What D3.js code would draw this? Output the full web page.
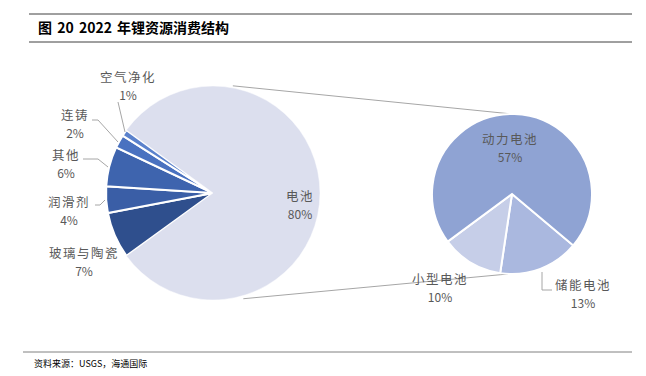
<!DOCTYPE html>
<html lang="zh">
<head>
<meta charset="UTF-8">
<title>2022 年锂资源消费结构</title>
<script src="https://d3js.org/d3.v7.min.js"></script>
<style>
  body { margin: 0; background: #fff; }
  text { font-family: "Noto Sans CJK SC", "Noto Sans", sans-serif; }
</style>
</head>
<body>
<div id="chart"></div>
<script>
// main pie: battery + the five small uses (order going clockwise from the lower-left)
const mainNames = ["玻璃与陶瓷", "润滑剂", "其他", "连铸", "空气净化", "电池"];
const mainValues = [7, 4, 6, 2, 1, 80];
const mainColors = ["#2f4f8d", "#3a5ea6", "#3e64ae", "#4a72c0", "#5b82cc", "#dcdfee"];

// secondary pie: breakdown of 电池
const subNames = ["储能电池", "小型电池", "动力电池"];
const subValues = [13, 10, 57];
const subColors = ["#aab8df", "#c6cee8", "#8fa3d3"];

const width = 646, height = 376;
const deg = Math.PI / 180;

const svg = d3.select("#chart").append("svg")
  .attr("width", width)
  .attr("height", height);

// title and rules
svg.append("line").attr("x1", 29).attr("x2", 632).attr("y1", 14).attr("y2", 14)
  .attr("stroke", "#404040").attr("stroke-width", 1);
svg.append("line").attr("x1", 29).attr("x2", 632).attr("y1", 42).attr("y2", 42)
  .attr("stroke", "#404040").attr("stroke-width", 1);
svg.append("text").attr("x", 38).attr("y", 33)
  .attr("font-size", 14).attr("font-weight", "bold").attr("fill", "#000")
  .attr("word-spacing", "2px")
  .text("图 20 2022 年锂资源消费结构");

svg.append("line").attr("x1", 23).attr("x2", 632).attr("y1", 352).attr("y2", 352)
  .attr("stroke", "#808080").attr("stroke-width", 1);
svg.append("text").attr("x", 34).attr("y", 367)
  .attr("font-size", 9).attr("fill", "#000")
  .text("资料来源：USGS，海通国际");

// geometry
const mc = [213, 193], mr = 107;
const sc = [512, 194], sr = 80;

// connector lines from the big pie to the top / bottom of the small one
const onCircle = (c, r, a) => [c[0] + r * Math.sin(a), c[1] - r * Math.cos(a)];
const t0 = onCircle(mc, mr + 2, 10.5 * deg), b0 = onCircle(mc, mr + 3, 164 * deg);
svg.append("line").attr("x1", t0[0]).attr("y1", t0[1]).attr("x2", sc[0]).attr("y2", sc[1] - sr)
  .attr("stroke", "#a6a6a6").attr("stroke-width", 1);
svg.append("line").attr("x1", b0[0]).attr("y1", b0[1]).attr("x2", sc[0] - 4).attr("y2", sc[1] + sr)
  .attr("stroke", "#a6a6a6").attr("stroke-width", 1);

// main pie
const mainPie = d3.pie().sort(null).value(d => d)
  .startAngle(-126 * deg).endAngle(234 * deg);
const mainArcs = mainPie(mainValues);
const mainArc = d3.arc().innerRadius(0).outerRadius(mr);
svg.append("g").attr("transform", `translate(${mc})`)
  .selectAll("path")
  .data(mainArcs)
  .join("path")
  .attr("d", mainArc)
  .attr("fill", (d, i) => mainColors[i])
  .attr("stroke", "#fff")
  .attr("stroke-width", (d, i) => i < 5 ? 2 : 0.5);

// secondary pie
const subPie = d3.pie().sort(null).value(d => d)
  .startAngle(130 * deg).endAngle(490 * deg);
const subArcs = subPie(subValues);
const subArc = d3.arc().innerRadius(0).outerRadius(sr);
svg.append("g").attr("transform", `translate(${sc})`)
  .selectAll("path")
  .data(subArcs)
  .join("path")
  .attr("d", subArc)
  .attr("fill", (d, i) => subColors[i])
  .attr("stroke", "#fff")
  .attr("stroke-width", 2);

// labels: name + percent, positioned like the original data labels
const labels = [
  { name: mainNames[4], value: mainValues[4], x: 128, y: 77 },
  { name: mainNames[3], value: mainValues[3], x: 75, y: 115 },
  { name: mainNames[2], value: mainValues[2], x: 66, y: 155 },
  { name: mainNames[1], value: mainValues[1], x: 69, y: 202 },
  { name: mainNames[0], value: mainValues[0], x: 84, y: 253 },
  { name: mainNames[5], value: mainValues[5], x: 300, y: 196 },
  { name: subNames[2], value: subValues[2], x: 510, y: 139 },
  { name: subNames[0], value: subValues[0], x: 583, y: 285 },
  { name: subNames[1], value: subValues[1], x: 440, y: 279 }
];
const lab = svg.append("g").selectAll("g").data(labels).join("g")
  .attr("transform", d => `translate(${d.x},${d.y})`)
  .attr("fill", "#595959")
  .attr("text-anchor", "middle");
lab.append("text")
  .attr("y", 4.5)
  .attr("font-size", 12.5)
  .attr("letter-spacing", "1.5px")
  .text(d => d.name);
lab.append("text")
  .attr("y", 22.5)
  .attr("font-size", 12)
  .text(d => d.value + "%");

// leader lines
const leaders = [
  [[118, 102], [125, 132]],
  [[92, 120], [98, 120], [118, 142]],
  [[83, 159], [98, 159], [108, 167]],
  [[95, 205], [100, 205], [105, 200]],
  [[552, 290], [542, 290], [542, 272]]
];
svg.append("g").selectAll("path").data(leaders).join("path")
  .attr("d", d => d3.line()(d))
  .attr("fill", "none")
  .attr("stroke", "#a6a6a6")
  .attr("stroke-width", 1);
</script>
</body>
</html>
